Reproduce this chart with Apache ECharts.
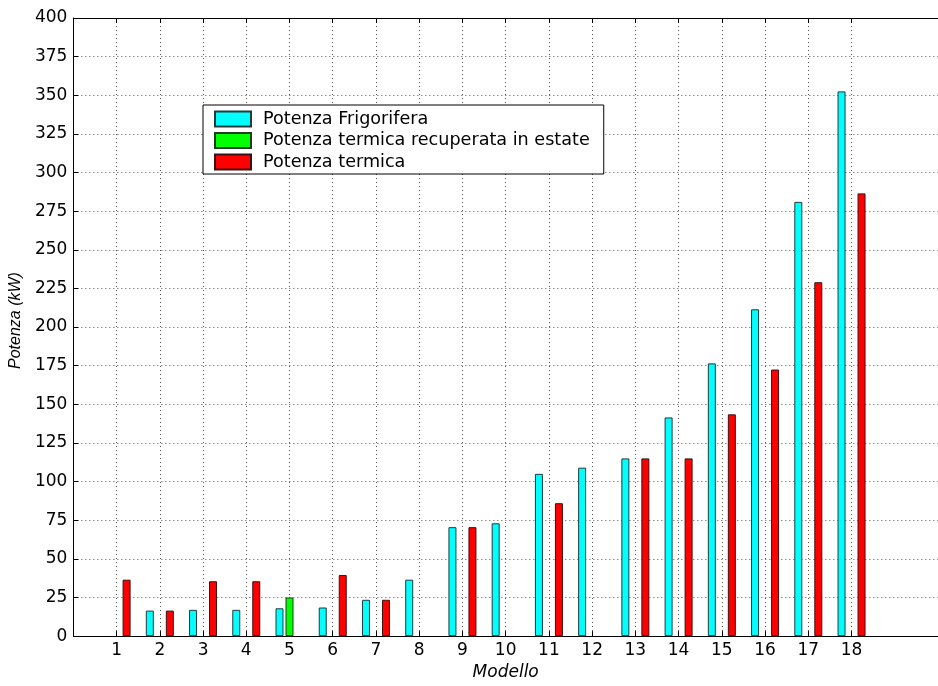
<!DOCTYPE html>
<html>
<head>
<meta charset="utf-8">
<script src="https://cdn.jsdelivr.net/npm/echarts@6/dist/echarts.min.js"></script>
<style>html,body{margin:0;padding:0;background:#fff}#c{width:938px;height:686px}</style>
</head>
<body>
<div id="c"></div>
<script>
const categories = ['1','2','3','4','5','6','7','8','9','10','11','12','13','14','15','16','17','18'];
const potenzaFrigorifera = ['-', 16.5, 17, 17, 18, 18.5, 23.5, 36.5, 70.5, 73, 105, 109, 115, 141.5, 176.5, 211.5, 281, 352.5];
const potenzaRecuperata = ['-', '-', '-', '-', 25, '-', '-', '-', '-', '-', '-', '-', '-', '-', '-', '-', '-', '-'];
const potenzaTermica = [36.5, 16.5, 35.5, 35.5, '-', 39.5, 23.5, '-', 70.5, '-', 86, '-', 115, 115, 143.5, 172.5, 229, 286.5];
const yTicks = {min: 0, max: 400, interval: 25};
const seriesNames = ['Potenza Frigorifera', 'Potenza termica recuperata in estate', 'Potenza termica'];

// axis runs from 0 to 20 (MATLAB xlim), ticks only at 1..18
const axisCats = [''].concat(categories, ['', '']);
const pad = arr => ['-'].concat(arr, ['-', '-']);
const isTick = idx => idx >= 1 && idx <= categories.length;

const HFONT = 'DejaVu Sans';
const dotted = {color: '#555', width: 1, type: [1, 3]};

const chart = echarts.init(document.getElementById('c'), null, {renderer: 'canvas'});
const barBase = {type: 'bar', barWidth: 8, barGap: '25%', animation: false};
chart.setOption({
  backgroundColor: '#fff',
  animation: false,
  grid: {left: 73, top: 18, width: 872, height: 623, containLabel: false},
  legend: {
    orient: 'vertical', left: 203, top: 105,
    padding: [5, 14, 3, 11],
    itemWidth: 36, itemHeight: 15, itemGap: 3.5,
    backgroundColor: '#fff', borderColor: '#000', borderWidth: 1,
    icon: 'rect',
    textStyle: {fontFamily: HFONT, fontSize: 17.6, color: '#000', lineHeight: 15, padding: [0, 0, 0, 7]},
    data: seriesNames
  },
  xAxis: [{
    type: 'category', data: axisCats, boundaryGap: false, position: 'bottom',
    name: 'Modello', nameLocation: 'middle', nameGap: 24,
    nameTextStyle: {fontFamily: HFONT, fontSize: 17, fontStyle: 'italic', color: '#000'},
    axisLine: {show: true, lineStyle: {color: '#000', width: 1}},
    axisTick: {show: true, inside: true, length: 5, interval: isTick, lineStyle: {color: '#000'}},
    axisLabel: {interval: isTick, margin: 6, fontFamily: HFONT, fontSize: 17, color: '#000'},
    splitLine: {show: true, interval: isTick, lineStyle: dotted}
  }, {
    type: 'category', data: axisCats, boundaryGap: false, position: 'top',
    axisLine: {show: true, lineStyle: {color: '#000', width: 1}},
    axisTick: {show: true, inside: true, length: 5, interval: isTick, lineStyle: {color: '#000'}},
    axisLabel: {show: false},
    splitLine: {show: false}
  }],
  yAxis: {
    type: 'value', min: yTicks.min, max: yTicks.max, interval: yTicks.interval,
    name: 'Potenza (kW)', nameLocation: 'middle', nameGap: 44,
    nameTextStyle: {fontFamily: 'Liberation Sans', fontSize: 16, fontStyle: 'italic', color: '#000', padding: [0, 0, 0, 13]},
    axisLine: {show: true, lineStyle: {color: '#000', width: 1}},
    axisTick: {show: true, inside: true, length: 5, lineStyle: {color: '#000'}},
    axisLabel: {margin: 6, fontFamily: HFONT, fontSize: 17, color: '#000'},
    splitLine: {show: true, lineStyle: dotted}
  },
  series: [
    Object.assign({}, barBase, {name: seriesNames[0], data: pad(potenzaFrigorifera),
      itemStyle: {color: '#00ffff', borderColor: '#1e3c3c', borderWidth: 1}}),
    Object.assign({}, barBase, {name: seriesNames[1], data: pad(potenzaRecuperata),
      itemStyle: {color: '#00ff00', borderColor: '#1e3c1e', borderWidth: 1}}),
    Object.assign({}, barBase, {name: seriesNames[2], data: pad(potenzaTermica),
      itemStyle: {color: '#ff0000', borderColor: '#3c1010', borderWidth: 1}})
  ]
});
</script>
</body>
</html>
